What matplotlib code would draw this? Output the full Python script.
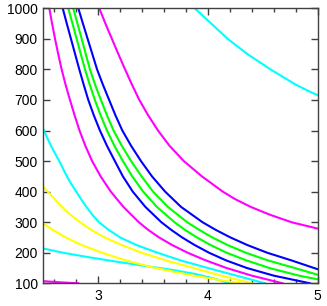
import matplotlib
matplotlib.use('Agg')
import matplotlib.pyplot as plt
from matplotlib.ticker import MultipleLocator, FixedLocator

plt.rcParams['font.family'] = ['Liberation Sans', 'DejaVu Sans']

# contour lines: (x, y) per curve
magenta0_x = [2.50, 2.66, 2.82]
magenta0_y = [107, 103, 100]

cyan_low_x = [2.50, 2.68, 2.92, 3.18, 3.46, 3.66, 3.89, 4.06, 4.20]
cyan_low_y = [214, 200, 185, 170, 155, 145, 130, 115, 100]

yellow1_x = [2.50, 2.585, 2.705, 2.85, 3.035, 3.25, 3.52, 3.87, 4.29]
yellow1_y = [296, 275, 250, 225, 200, 175, 150, 125, 100]

yellow2_x = [2.50, 2.54, 2.605, 2.67, 2.745, 2.835, 2.935, 3.06, 3.215, 3.395, 3.615, 3.87, 4.12, 4.40]
yellow2_y = [416, 400, 375, 350, 325, 300, 275, 250, 225, 200, 175, 150, 125, 100]

cyan_mid_x = [2.50, 2.537, 2.57, 2.607, 2.645, 2.68, 2.715, 2.755, 2.80, 2.845, 2.893,
              2.945, 3.007, 3.095, 3.20, 3.35, 3.54, 3.75, 4.00, 4.26, 4.52]
cyan_mid_y = [605, 575, 550, 525, 500, 475, 450, 425, 400, 375, 350,
              325, 300, 275, 250, 225, 200, 175, 150, 125, 100]

magenta1_x = [2.555, 2.58, 2.607, 2.636, 2.667, 2.703, 2.743, 2.785, 2.83, 2.883, 2.945,
              3.022, 3.115, 3.23, 3.37, 3.455, 3.555, 3.675, 3.815, 3.98, 4.17, 4.40, 4.68]
magenta1_y = [1000, 950, 900, 850, 800, 750, 700, 650, 600, 550, 500,
              450, 400, 350, 300, 275, 250, 225, 200, 175, 150, 125, 100]

blue1_x = [2.677, 2.714, 2.752, 2.79, 2.828, 2.868, 2.91, 2.96, 3.016, 3.08, 3.152,
           3.225, 3.315, 3.43, 3.575, 3.665, 3.765, 3.88, 4.01, 4.165, 4.355, 4.60, 4.93]
blue1_y = [1000, 950, 900, 850, 800, 750, 700, 650, 600, 550, 500,
           450, 400, 350, 300, 275, 250, 225, 200, 175, 150, 125, 100]

green1_x = [2.728, 2.766, 2.804, 2.842, 2.88, 2.923, 2.97, 3.022, 3.08, 3.148, 3.225,
            3.31, 3.41, 3.535, 3.695, 3.79, 3.90, 4.025, 4.17, 4.35, 4.56, 4.83, 5.00]
green1_y = [1000, 950, 900, 850, 800, 750, 700, 650, 600, 550, 500,
            450, 400, 350, 300, 275, 250, 225, 200, 175, 150, 125, 113]

green2_x = [2.773, 2.811, 2.85, 2.887, 2.925, 2.972, 3.025, 3.08, 3.14, 3.215, 3.30,
            3.395, 3.50, 3.635, 3.81, 3.92, 4.04, 4.18, 4.345, 4.545, 4.79, 5.00]
green2_y = [1000, 950, 900, 850, 800, 750, 700, 650, 600, 550, 500,
            450, 400, 350, 300, 275, 250, 225, 200, 175, 150, 128]

blue2_x = [2.819, 2.861, 2.904, 2.947, 2.99, 3.043, 3.10, 3.157, 3.22, 3.30, 3.39,
           3.49, 3.61, 3.755, 3.95, 4.07, 4.205, 4.36, 4.54, 4.76, 5.00]
blue2_y = [1000, 950, 900, 850, 800, 750, 700, 650, 600, 550, 500,
           450, 400, 350, 300, 275, 250, 225, 200, 175, 146]

magenta2_x = [3.01, 3.066, 3.125, 3.184, 3.245, 3.308, 3.375, 3.455, 3.545, 3.65, 3.78,
              3.945, 4.135, 4.25, 4.39, 4.56, 4.76, 5.00]
magenta2_y = [1000, 950, 900, 850, 800, 750, 700, 650, 600, 550, 500,
              450, 400, 375, 350, 325, 300, 279]

cyan_top_x = [3.88, 3.955, 4.03, 4.105, 4.18, 4.27, 4.36, 4.465, 4.57, 4.685, 4.80, 4.94, 5.00]
cyan_top_y = [1000, 975, 950, 925, 900, 875, 850, 825, 800, 775, 750, 725, 716]

curves = [
    (magenta0_x, magenta0_y, '#ff00ff'),
    (cyan_low_x, cyan_low_y, '#00ffff'),
    (yellow1_x, yellow1_y, '#ffff00'),
    (yellow2_x, yellow2_y, '#ffff00'),
    (cyan_mid_x, cyan_mid_y, '#00ffff'),
    (magenta1_x, magenta1_y, '#ff00ff'),
    (blue1_x, blue1_y, '#0000ff'),
    (green1_x, green1_y, '#00ff00'),
    (green2_x, green2_y, '#00ff00'),
    (blue2_x, blue2_y, '#0000ff'),
    (magenta2_x, magenta2_y, '#ff00ff'),
    (cyan_top_x, cyan_top_y, '#00ffff'),
]

fig = plt.figure(figsize=(3.27, 3.06), dpi=100)
ax = fig.add_axes([0.1324, 0.0742, 0.8392, 0.8987])

for xs, ys, c in curves:
    ax.plot(xs, ys, color=c, lw=1.5, solid_joinstyle='round')

ax.set_xlim(2.5, 5)
ax.set_ylim(100, 1000)
ax.xaxis.set_major_locator(FixedLocator([3, 4, 5]))
ax.xaxis.set_minor_locator(FixedLocator([2.6, 2.8, 3.2, 3.4, 3.6, 3.8, 4.2, 4.4, 4.6, 4.8]))
ax.yaxis.set_major_locator(MultipleLocator(100))
ax.tick_params(which='both', direction='in', top=True, right=True,
               color='#404040', labelsize=10, pad=4)
ax.tick_params(which='major', length=5, width=1)
ax.tick_params(which='minor', length=3, width=1)
for s in ax.spines.values():
    s.set_color('#404040')
    s.set_linewidth(1)

fig.savefig('out.png', dpi=100)
